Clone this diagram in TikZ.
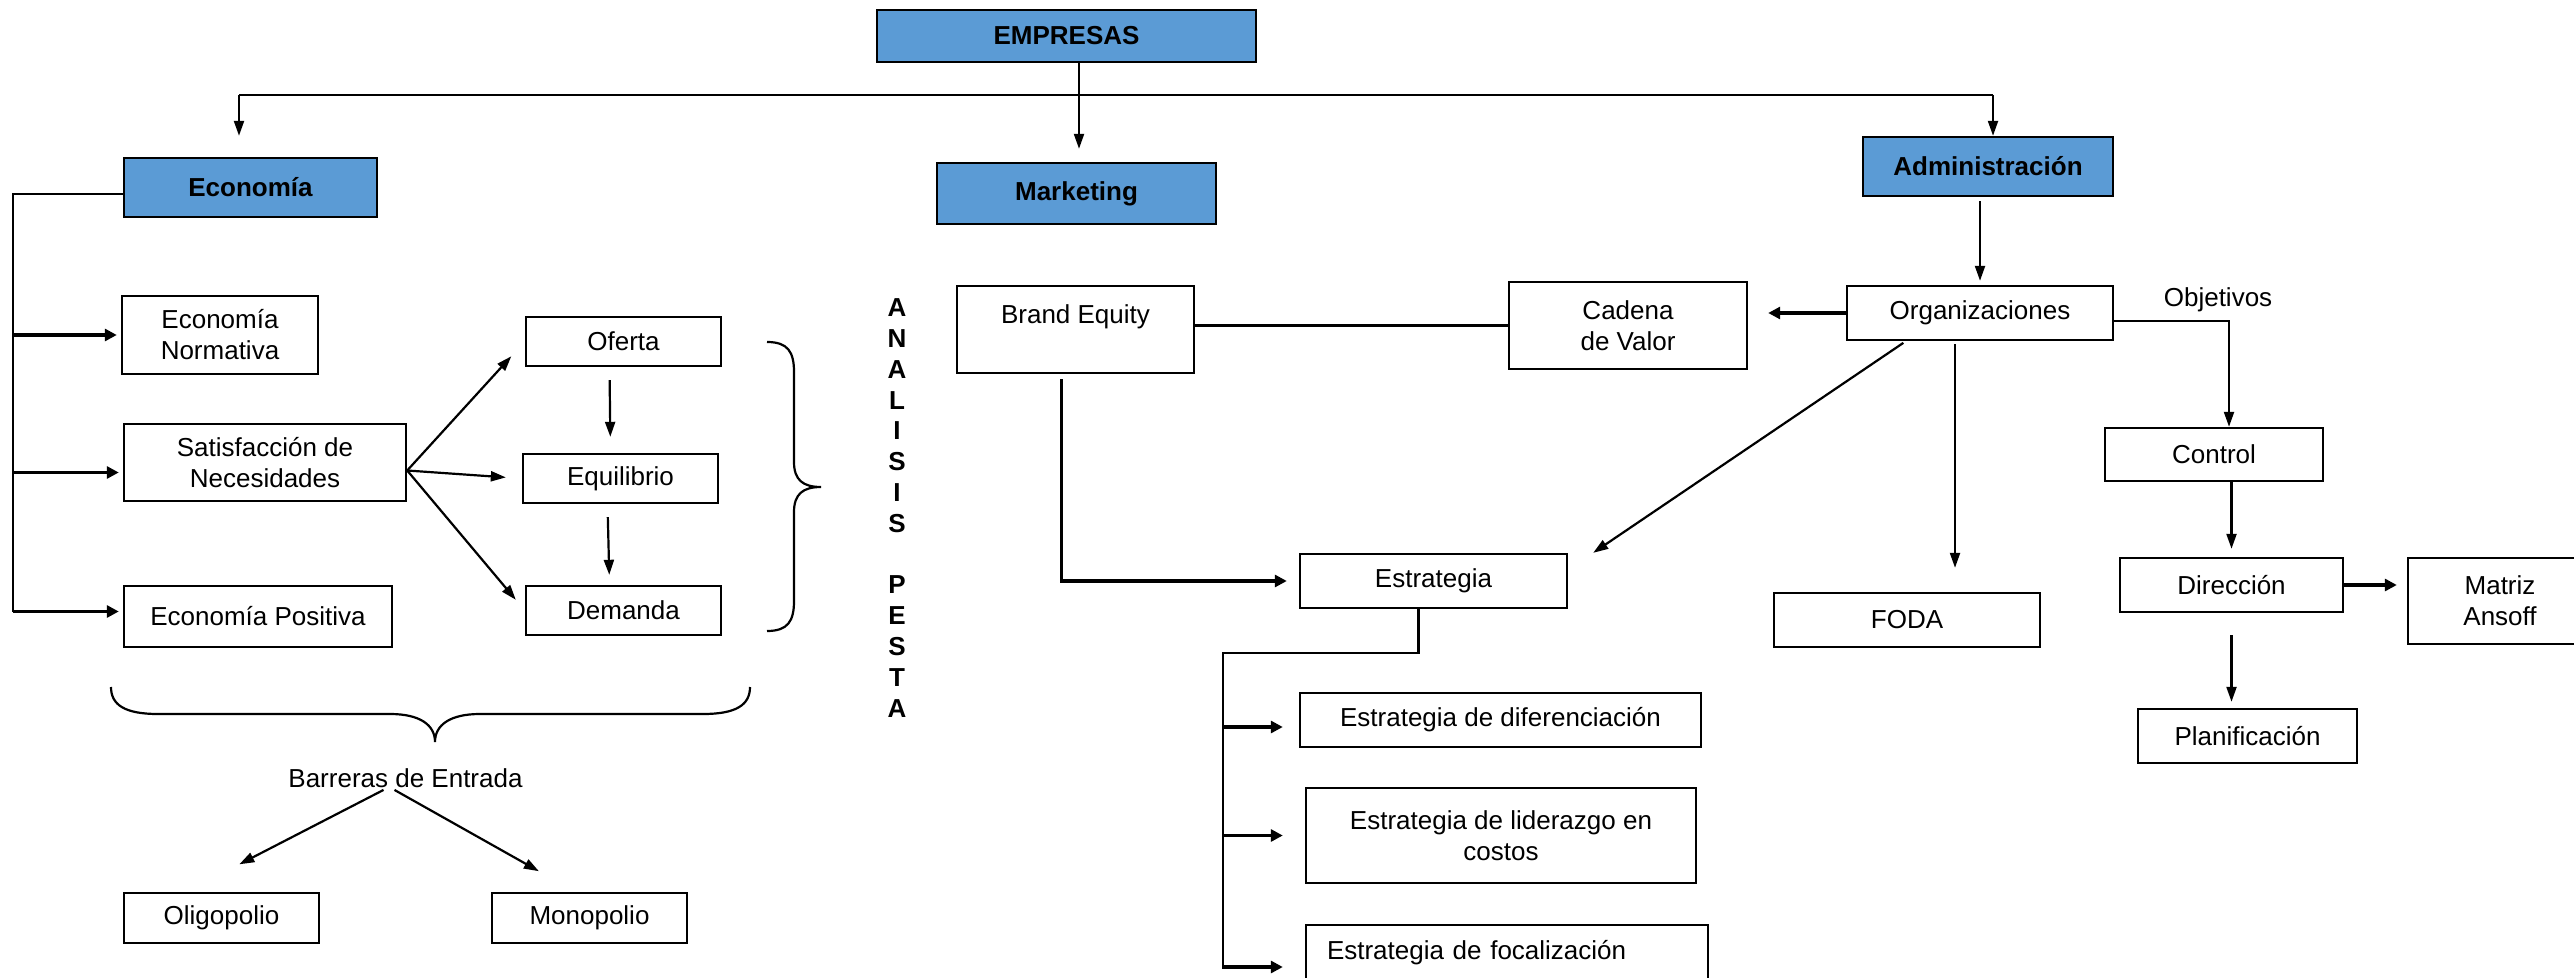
\documentclass[tikz,border=0pt]{standalone}
\usepackage{fontspec}
\setmainfont{Liberation Sans}
\usetikzlibrary{arrows.meta,calc}
\definecolor{hdrblue}{RGB}{91,155,213}
\begin{document}
\begin{tikzpicture}[x=0.5pt,y=-0.5pt,
  every node/.style={font=\fontsize{13}{15.5}\selectfont},
  box/.style={draw, line width=1.2pt, inner sep=0pt, align=center},
  hdr/.style={box, fill=hdrblue, font=\fontsize{13}{15.5}\selectfont\bfseries},
  txt/.style={inner sep=1pt, align=center},
  ln/.style={line width=1.1pt},
  arr/.style={ln, -{Triangle[length=7.5pt,width=5pt]}},
  tarr/.style={line width=1.6pt, -{Triangle[length=6pt,width=6pt]}},
]
\useasboundingbox (0,0) rectangle (2574,978);

% headers
\node[hdr, minimum width=189.5pt, minimum height=26pt] (emp) at (1066.5,36) {EMPRESAS};
\node[hdr, minimum width=126.5pt, minimum height=29.5pt] (eco) at (250.5,187.5) {Economía};
\node[hdr, minimum width=139.5pt, minimum height=30.5pt] (mkt) at (1076.5,193.5) {Marketing};
\node[hdr, minimum width=125pt, minimum height=29.5pt] (adm) at (1988,166.5) {Administración};

% economy side
\node[box, minimum width=98pt, minimum height=39pt] (norm) at (220,335) {Economía\\Normativa};
\node[box, minimum width=141pt, minimum height=38.5pt] (sat) at (265,462.5) {Satisfacción de\\Necesidades};
\node[box, minimum width=134pt, minimum height=30.5pt] (pos) at (258,616.5) {Economía Positiva};
\node[box, minimum width=97.5pt, minimum height=24.5pt] (ofe) at (623.5,341.5) {Oferta};
\node[box, minimum width=97.5pt, minimum height=24.5pt] (equ) at (620.5,478.5) {Equilibrio};
\node[box, minimum width=97.5pt, minimum height=24.5pt] (dem) at (623.5,610.5) {Demanda};
\node[box, minimum width=97.5pt, minimum height=25pt] (oli) at (221.5,918) {Oligopolio};
\node[box, minimum width=97.5pt, minimum height=25pt] (mon) at (589.5,918) {Monopolio};
\node[txt] (bar) at (405.5,778) {Barreras de Entrada};
\node[txt, font=\fontsize{13}{15.4}\selectfont\bfseries] (pesta) at (897,508) {A\\N\\A\\L\\I\\S\\I\\S\\\mbox{}\\P\\E\\S\\T\\A};

% marketing / administration side
\node[box, minimum width=118.5pt, minimum height=43.5pt] (brand) at (1075.5,329.5) {Brand Equity\\\mbox{}};
\node[box, minimum width=119pt, minimum height=43.5pt] (cad) at (1628,325.5) {Cadena\\de Valor};
\node[box, minimum width=133pt, minimum height=27pt] (org) at (1980,313) {Organizaciones};
\node[txt] (obj) at (2218,300) {Objetivos};
\node[box, minimum width=109pt, minimum height=26.5pt] (ctl) at (2214,454.5) {Control};
\node[box, minimum width=133.5pt, minimum height=27pt] (est) at (1433.5,581) {Estrategia};
\node[box, minimum width=133pt, minimum height=27pt] (foda) at (1907,620) {FODA};
\node[box, minimum width=111.5pt, minimum height=27pt] (dir) at (2231.5,585) {Dirección};
\node[box, minimum width=92pt, minimum height=43pt] (mat) at (2500,601) {Matriz\\Ansoff};
\node[box, minimum width=109.5pt, minimum height=27pt] (plan) at (2247.5,736) {Planificación};
\node[box, minimum width=200.5pt, minimum height=27pt] (dif) at (1500.5,720) {Estrategia de diferenciación};
\node[box, minimum width=195pt, minimum height=47.5pt] (lid) at (1501,835.5) {Estrategia de liderazgo en\\costos};
\node[box, minimum height=28pt, text width=180pt, inner xsep=10.5pt, align=left] (foc) at (1507,953) {Estrategia de focalización};

% top bus
\coordinate (busL) at (239,95);
\coordinate (busM) at (1079,95);
\coordinate (busR) at (1993,95);
\draw[ln] (busL) -- (busR);
\draw[arr, shorten >=10.5pt] (busL) -- (busL |- eco.north);
\draw[arr] (busR) -- (busR |- adm.north);
\draw[arr, shorten >=6.5pt] (emp.south -| busM) -- (busM |- mkt.north);

% economy connectors
\coordinate (ecoL) at (13,194);
\coordinate (satA) at ([yshift=-5pt]sat.west);
\coordinate (posA) at ([yshift=2.5pt]pos.west);
\draw[ln] (eco.west |- ecoL) -- (ecoL) -- (ecoL |- posA);
\draw[tarr, shorten >=2pt] (ecoL |- norm.west) -- (norm.west);
\draw[tarr, shorten >=2pt] (ecoL |- satA) -- (satA);
\draw[tarr, shorten >=2pt] (ecoL |- posA) -- (posA);

\coordinate (satE) at ([yshift=-4pt]sat.east);
\draw[arr, shorten >=10pt] (satE) -- (ofe.west);
\draw[arr, shorten >=8pt] (satE) -- (equ.west);
\draw[arr, shorten >=7pt] (satE) -- (dem.west);
\draw[arr, shorten <=6.5pt, shorten >=8pt] ([xshift=-7pt]ofe.south) -- ([xshift=-5pt]equ.north);
\draw[arr, shorten <=6.5pt, shorten >=5pt] ([xshift=-6.5pt]equ.south) -- ([xshift=-7pt]dem.north);

% braces
\draw[ln] (767,342) .. controls (788,342) and (794,352) .. (794,372) -- (794,462)
  .. controls (794,480) and (803,487) .. (821,487)
  .. controls (803,487) and (794,494) .. (794,512) -- (794,601)
  .. controls (794,621) and (788,631) .. (767,631);
\draw[ln] (111,687) .. controls (111,705) and (125,714) .. (158,714) -- (390,714)
  .. controls (420,714) and (435,725) .. (435,742)
  .. controls (435,725) and (450,714) .. (480,714) -- (703,714)
  .. controls (736,714) and (750,705) .. (750,687);

\draw[arr, shorten >=30pt] ([xshift=-11pt]bar.south) -- ([xshift=-17.75pt]oli.north);
\draw[arr, shorten >=21pt] ([xshift=-5.5pt]bar.south) -- ([xshift=-7pt]mon.north);

% marketing / administration connectors
\draw[ln] (cad.west -| brand.east) -- (cad.west);
\draw[tarr, shorten >=10pt] (org.west) -- (org.west -| cad.east);
\draw[arr, shorten <=2pt, shorten >=2pt] (adm.south -| org.north) -- (org.north);
\draw[arr] ([yshift=-4pt]org.east) -| ([xshift=7.5pt]ctl.north);
\draw[arr, shorten <=1.5pt] ([xshift=30pt]org.south west) -- ([xshift=12.5pt]est.north east);
\coordinate (orgF) at ([xshift=-12.5pt]org.south);
\draw[arr, shorten <=1.5pt, shorten >=12pt] (orgF) -- (orgF |- foda.north);
\draw[arr, shorten >=4pt] (ctl.south -| dir.north) -- (dir.north);
\draw[arr, shorten <=11pt, shorten >=3pt] (dir.south) -- (dir.south |- plan.north);
\draw[tarr, shorten >=5pt] (dir.east) -- (dir.east -| mat.west);

\coordinate (brB) at ([xshift=-7pt]brand.south);
\draw[tarr, shorten <=2.5pt, shorten >=6pt] (brB) |- (est.west);

\coordinate (estB) at ([xshift=-7.5pt]est.south);
\coordinate (estL) at (1223,653);
\draw[ln] (estB) |- (estL) -- ++(0,316);
\coordinate (difA) at ([yshift=-3.5pt]dif.west);
\coordinate (focA) at ([yshift=-7pt]foc.west);
\draw[tarr, shorten >=8pt] (estL |- difA) -- (difA);
\draw[tarr, shorten >=11pt] (estL |- lid.west) -- (lid.west);
\draw[tarr, shorten >=11pt] (estL |- focA) -- (focA);
\end{tikzpicture}
\end{document}
